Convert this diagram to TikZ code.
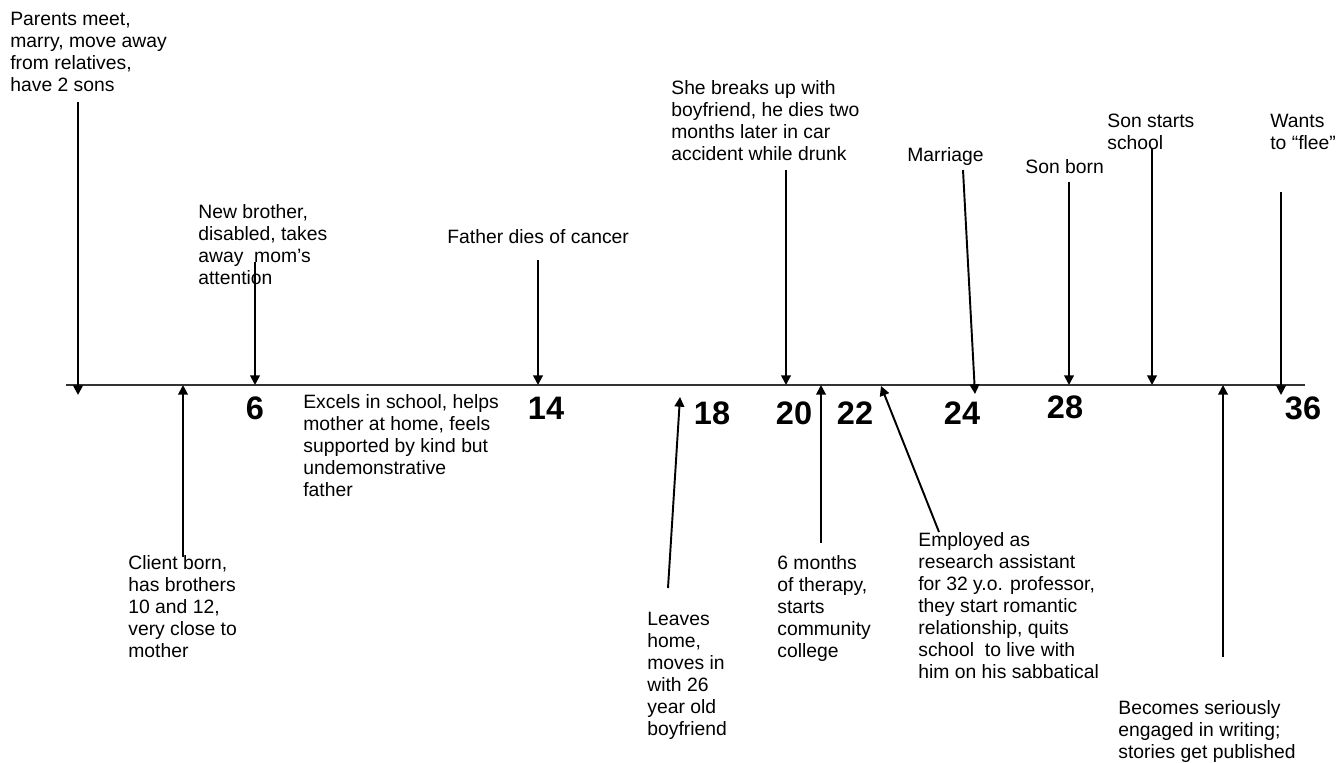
\documentclass[tikz,border=0pt]{standalone}
\usepackage{fontspec}
\setmainfont{Liberation Sans}
\usetikzlibrary{arrows.meta}

\begin{document}
\begin{tikzpicture}[
        x=0.02cm, y=-0.02cm,
        note/.style={anchor=north west, align=left, inner sep=0pt, font=\fontsize{11}{12.5}\selectfont},
        year/.style={inner sep=0pt, font=\fontsize{18.5}{20}\selectfont\bfseries},
        evt/.style={-{Triangle[length=5.5pt, width=5.5pt]}, line width=1.1pt},
        axis/.style={line width=1.1pt, black!80}
    ]
    \useasboundingbox (0,0) rectangle (1338,763);

    % Axis
    \coordinate (axisL) at (66,385);
    \coordinate (axisR) at (1305,385);
    \draw[axis] (axisL) -- (axisR);

    % Ages
    \node[year] (n6) at (255,408) {6};
    \node[year] (n14) at (546,408) {14};
    \node[year] (n18) at (712,413) {18};
    \node[year] (n20) at (794,413) {20};
    \node[year] (n22) at (855,413) {22};
    \node[year] (n24) at (962,413) {24};
    \node[year] (n28) at (1065,407) {28};
    \node[year] (n36) at (1303,408) {36};

    % Events above the line
    \node[note] (parents) at (10,12) {Parents meet,\\marry, move away\\from relatives,\\have 2 sons};
    \node[note] (brother) at (198,204) {New brother,\\disabled, takes\\away\ \ mom’s\\attention};
    \node[note] (father) at (447,229) {Father dies of cancer};
    \node[note] (breakup) at (671,80) {She breaks up with\\boyfriend, he dies two\\months later in car\\accident while drunk};
    \node[note] (marriage) at (907,147) {Marriage};
    \node[note] (sonborn) at (1025,159) {Son born};
    \node[note] (sonschool) at (1107,114) {Son starts\\school};
    \node[note] (flee) at (1270,114) {Wants\\to “flee”};

    % Events below the line
    \node[note] (born) at (128,555) {Client born,\\has brothers\\10 and 12,\\very close to\\mother};
    \node[note] (excels) at (303,394) {Excels in school, helps\\mother at home, feels\\supported by kind but\\undemonstrative\\father};
    \node[note] (leaves) at (647,612) {Leaves\\home,\\moves in\\with 26\\year old\\boyfriend};
    \node[note] (therapy) at (777,555) {6 months\\of therapy,\\starts\\community\\college};
    \node[note] (employed) at (918,532) {Employed as\\research assistant\\for 32 y.o. professor,\\they start romantic\\relationship, quits\\school\ \ to live with\\him on his sabbatical};
    \node[note] (writing) at (1118,700) {Becomes seriously\\engaged in writing;\\stories get published};

    % Arrow ends
    \coordinate (parentsA) at (78,102);   \coordinate (parentsB) at (78,395);
    \coordinate (bornA) at (183,557);     \coordinate (bornB) at (183,385);
    \coordinate (brotherA) at (255,262);  \coordinate (brotherB) at (255,385);
    \coordinate (fatherA) at (538,260);   \coordinate (fatherB) at (538,385);
    \coordinate (leavesA) at (668,588);   \coordinate (leavesB) at (680,397);
    \coordinate (breakupA) at (786,170);  \coordinate (breakupB) at (786,385);
    \coordinate (therapyA) at (821,543);  \coordinate (therapyB) at (821,385);
    \coordinate (employedA) at (939,532); \coordinate (employedB) at (881,386);
    \coordinate (marriageA) at (963,170); \coordinate (marriageB) at (975,394);
    \coordinate (sonbornA) at (1069,182); \coordinate (sonbornB) at (1069,385);
    \coordinate (schoolA) at (1152,148);  \coordinate (schoolB) at (1152,385);
    \coordinate (writingA) at (1223,657); \coordinate (writingB) at (1223,385);
    \coordinate (fleeA) at (1281,192);    \coordinate (fleeB) at (1281,395);

    % Arrows
    \draw[evt] (parentsA) -- (parentsB);
    \draw[evt] (bornA) -- (bornB);
    \draw[evt] (brotherA) -- (brotherB);
    \draw[evt] (fatherA) -- (fatherB);
    \draw[evt] (leavesA) -- (leavesB);
    \draw[evt] (breakupA) -- (breakupB);
    \draw[evt] (therapyA) -- (therapyB);
    \draw[evt] (employedA) -- (employedB);
    \draw[evt] (marriageA) -- (marriageB);
    \draw[evt] (sonbornA) -- (sonbornB);
    \draw[evt] (schoolA) -- (schoolB);
    \draw[evt] (writingA) -- (writingB);
    \draw[evt] (fleeA) -- (fleeB);

\end{tikzpicture}
\end{document}
